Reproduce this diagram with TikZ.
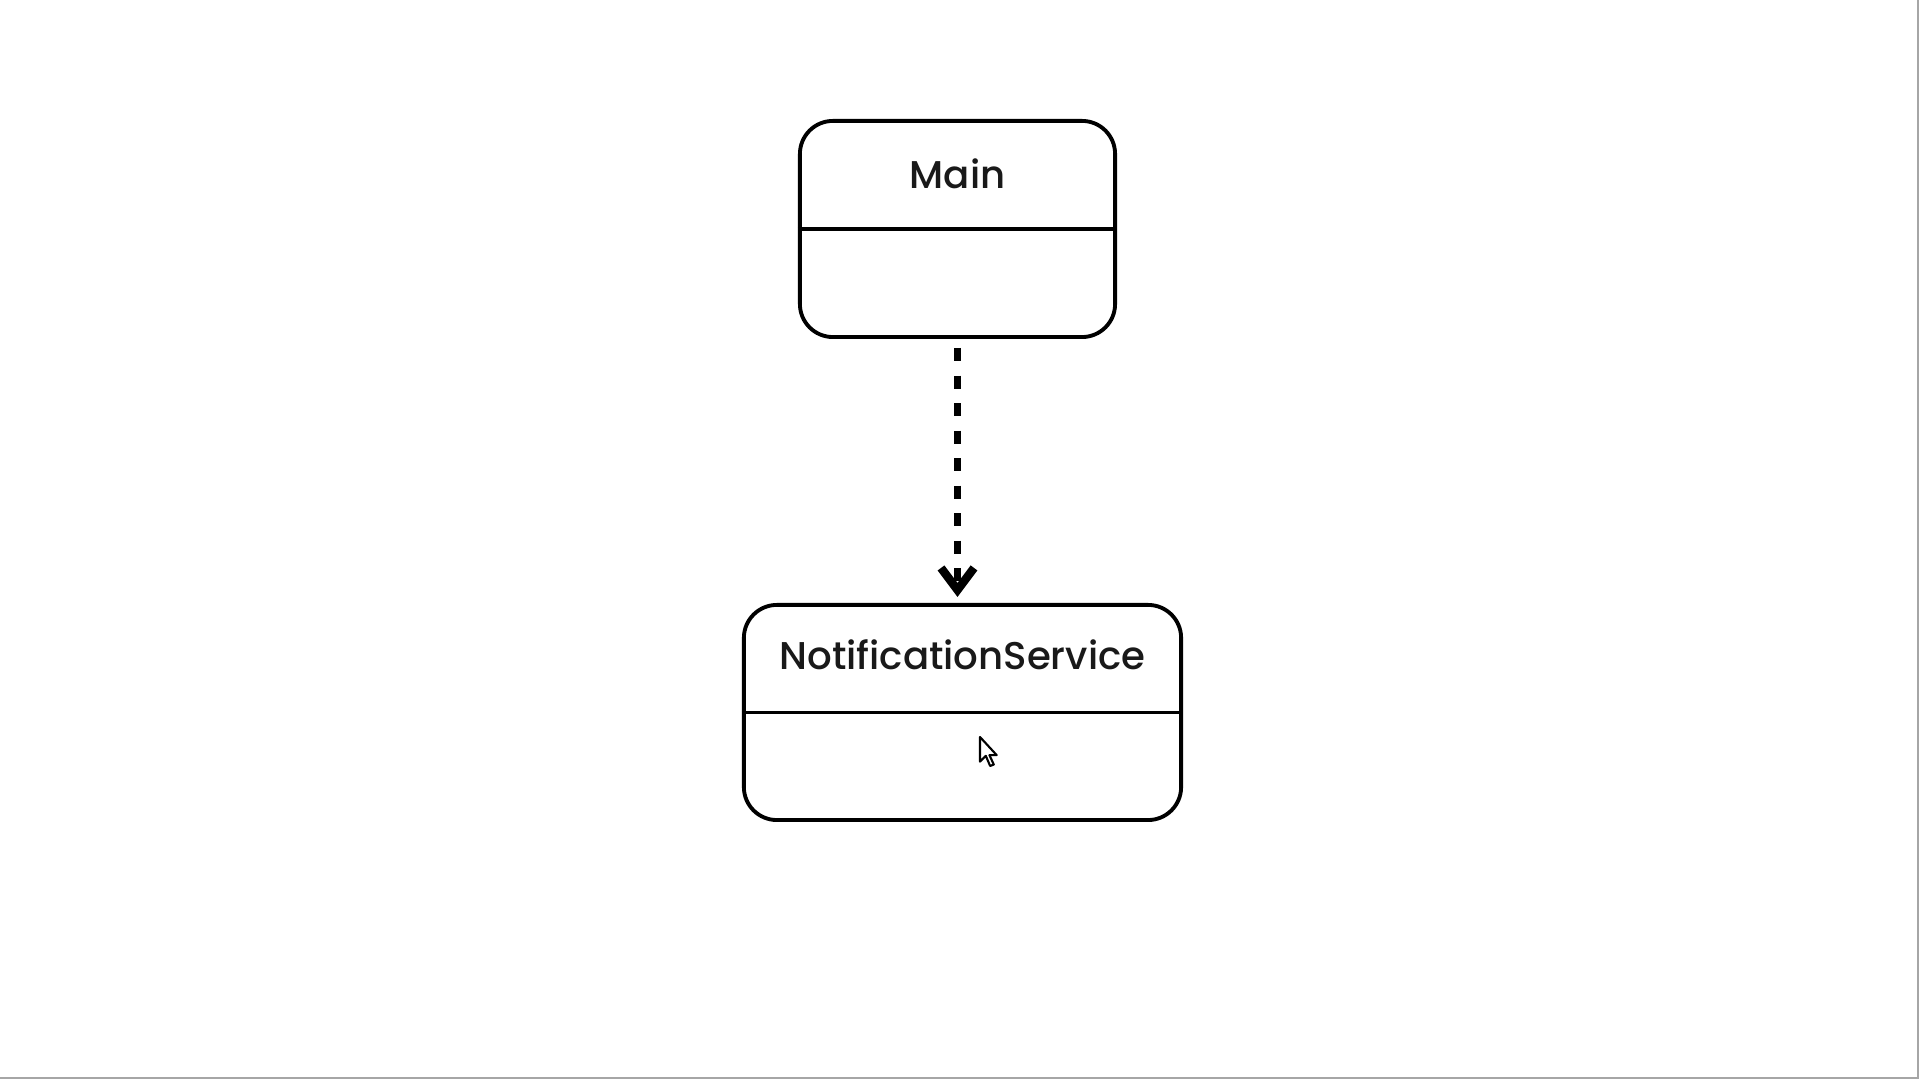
\documentclass[tikz,border=0pt]{standalone}
\usepackage{fontspec}
\newfontfamily\popfont{Poppins}[UprightFont=* Medium]
\usetikzlibrary{arrows.meta,calc}
\begin{document}
\begin{tikzpicture}[x=0.01cm,y=-0.01cm,
  classbox/.style={draw=black, line width=1.1pt, rounded corners=0.33cm, fill=white},
  divider/.style={line width=1.1pt},
  classname/.style={font=\popfont\fontsize{11}{13}\selectfont, text=black!90, inner sep=0pt},
  depline/.style={line width=1.9pt, dash pattern=on 0.13cm off 0.145cm,
    -{Straight Barb[length=0.22cm, width=0.33cm, line width=2.4pt]}},
  frame/.style={draw=black!35, line width=0.8pt}]
  \useasboundingbox (0,0) rectangle (1920,1080);

  % window frame edges
  \coordinate (fr1) at (1918,0);
  \coordinate (fr2) at (1918,1078);
  \coordinate (fr3) at (0,1078);
  \draw[frame] (fr1) -- (fr2) -- (fr3);

  % class boxes
  \node[classbox, minimum width=3.15cm, minimum height=2.16cm] (main) at (957.5,229) {};
  \node[classbox, minimum width=4.37cm, minimum height=2.15cm] (ns) at (962.5,712.5) {};

  % compartment dividers
  \draw[divider] (main.west) -- (main.east);
  \draw[divider] (ns.west) -- (ns.east);

  % class names
  \node[classname] (mainname) at ($(main.north)!0.5!(main.center)$) {Main};
  \node[classname] (nsname) at ($(ns.north)!0.5!(ns.center)+(0,-3)$) {NotificationService};

  % dependency
  \draw[depline, shorten <=0.09cm, shorten >=0.06cm] (main.south) -- (main.south |- ns.north);

  % mouse pointer
  \draw[fill=white, line width=0.6pt, line join=round, shift={(980,737)}, scale=1.45]
    (0,0) -- (0,17) -- (4,13) -- (7,20) -- (9.5,19) -- (6.5,12.5) -- (11.5,12.5) -- cycle;
\end{tikzpicture}
\end{document}
